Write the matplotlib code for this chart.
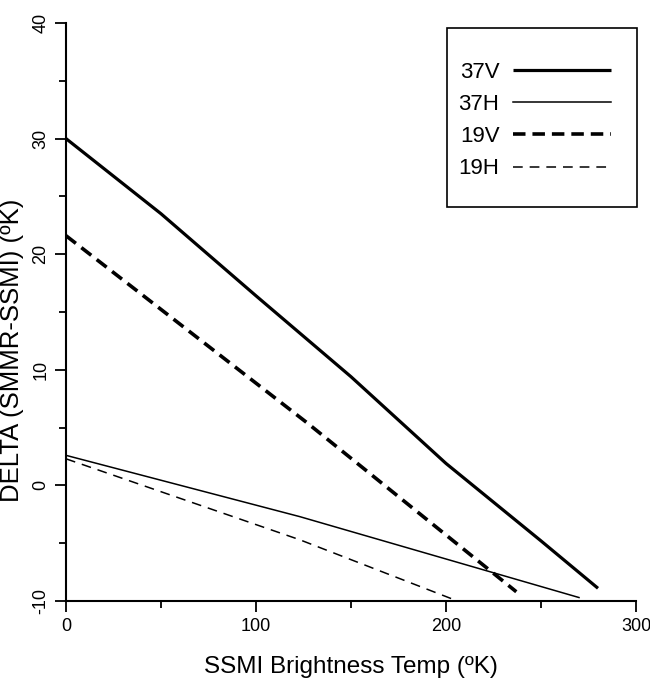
import matplotlib
matplotlib.use("Agg")
import matplotlib.pyplot as plt
from matplotlib.patches import Rectangle

plt.rcParams['font.family'] = ['Liberation Sans', 'DejaVu Sans']
plt.rcParams['axes.unicode_minus'] = False
plt.rcParams['lines.scale_dashes'] = False

# Data
t_37v = [0, 50, 100, 150, 200, 250, 280]
d_37v = [30.0, 23.5, 16.4, 9.4, 1.9, -4.8, -8.9]
t_37h = [0, 123, 270]
d_37h = [2.6, -2.7, -9.7]
t_19v = [0, 127, 237]
d_19v = [21.6, 5.4, -9.2]
t_19h = [0, 123, 206]
d_19h = [2.3, -4.7, -10.0]
labels = ['37V', '37H', '19V', '19H']

x_major = [0, 100, 200, 300]
x_minor = [50, 150, 250]
y_major = [-10, 0, 10, 20, 30, 40]
y_minor = [-5, 5, 15, 25, 35]

fig = plt.figure(figsize=(6.5, 6.78), dpi=100)
ax = fig.add_axes([66/650, 77/678, 570/650, 578/678])

l1, = ax.plot(t_37v, d_37v, color='black', lw=2.3, solid_capstyle='butt')
l2, = ax.plot(t_37h, d_37h, color='black', lw=1.1)
l3, = ax.plot(t_19v, d_19v, color='black', lw=2.6, dashes=(9, 5))
l4, = ax.plot(t_19h, d_19h, color='black', lw=1.1, dashes=(7, 5))

ax.set_xlim(0, 300)
ax.set_ylim(-10, 40)
ax.set_xticks(x_major)
ax.set_xticks(x_minor, minor=True)
ax.set_yticks(y_major)
ax.set_yticks(y_minor, minor=True)
ax.set_xticklabels([str(v) for v in x_major])
ax.set_yticklabels([str(v) for v in y_major])

for s in ['top', 'right']:
    ax.spines[s].set_visible(False)
for s in ['left', 'bottom']:
    ax.spines[s].set_linewidth(1.5)

ax.tick_params(which='major', direction='out', length=8, width=1.3, labelsize=13, pad=4)
ax.tick_params(which='minor', direction='out', length=5, width=1.3)
ax.tick_params(axis='y', which='major', labelrotation=90)
for lab in ax.get_yticklabels():
    lab.set_verticalalignment('center')

ax.set_xlabel('SSMI Brightness Temp (ºK)', fontsize=17.5)
ax.xaxis.set_label_coords(0.5, -0.095)
ax.set_ylabel('DELTA (SMMR-SSMI) (ºK)', fontsize=18.5)
ax.yaxis.set_label_coords(-0.074, 0.434)

# legend frame
ax.add_patch(Rectangle((0.668, 0.682), 0.334, 0.309, transform=ax.transAxes,
                       fill=False, edgecolor='black', lw=1.2, clip_on=False))
leg = ax.legend([l1, l2, l3, l4], labels, loc='center', bbox_to_anchor=(0.822, 0.831),
                frameon=False, markerfirst=False, fontsize=16, handlelength=4.4,
                handletextpad=0.6, labelspacing=0.5)

fig.savefig('out.png', dpi=100, facecolor='white')
